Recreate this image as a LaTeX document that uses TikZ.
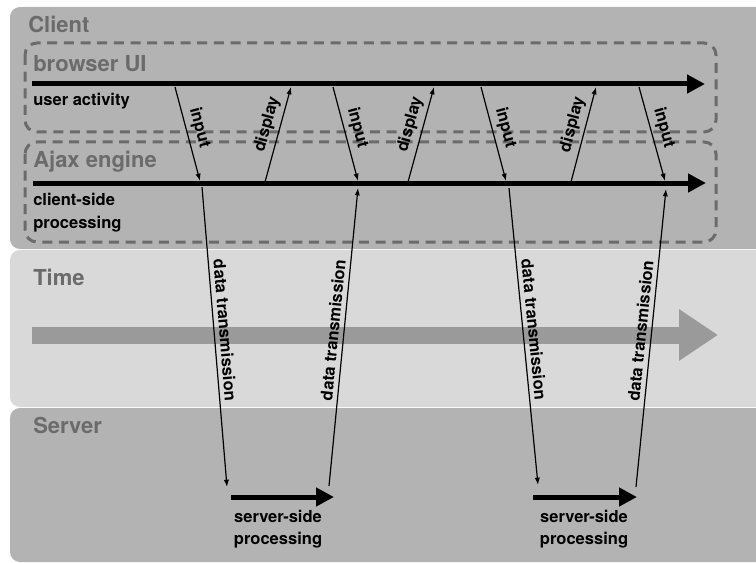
\documentclass[tikz,border=0pt]{standalone}
\usepackage{fontspec}
\setmainfont{TeX Gyre Heros}
\usetikzlibrary{arrows.meta}

\definecolor{panelgray}{HTML}{B3B3B3}
\definecolor{timegray}{HTML}{D9D9D9}
\definecolor{bargray}{HTML}{9A9A9A}
\definecolor{headgray}{HTML}{6B6B6B}

\begin{document}
\begin{tikzpicture}[x=0.75pt, y=-0.75pt, font=\bfseries\fontsize{12.4}{16.5}\selectfont]
          \tikzstyle{heading}=[anchor=base west, inner sep=0pt, text=headgray, font=\bfseries\fontsize{16.5}{20}\selectfont]
          \tikzstyle{lanetext}=[anchor=base west, inner sep=0pt]
          \tikzstyle{proctext}=[anchor=base, inner sep=0pt]
          \tikzstyle{group}=[draw=headgray, line width=2.25pt, dash pattern=on 7.5pt off 5pt, rounded corners=9pt]
          \tikzstyle{lane}=[line width=3.75pt, -{Triangle[length=13.5pt, width=13.5pt]}]
          \tikzstyle{msg}=[line width=0.9pt, -{Latex[length=5.5pt, width=4pt]}]
          \tikzstyle{msglabel}=[sloped, above]

          \clip (0,0) rectangle (756,563);
          \fill[white] (0,0) rectangle (756,563);

          % panels
          \fill[panelgray, rounded corners=7.5pt] (10,7) rectangle (790,249);
          \fill[timegray, rounded corners=7.5pt] (10,250) rectangle (790,407);
          \fill[panelgray, rounded corners=7.5pt] (10,408) rectangle (790,562);

          \draw[group] (25,43) rectangle (716,132);
          \draw[group] (25,142) rectangle (716,242);

          \node[heading] (client) at (28,33) {Client};
          \node[heading] (ui) at (33,72) {browser UI};
          \node[heading] (ajax) at (33,167) {Ajax engine};
          \node[heading] (time) at (33,285) {Time};
          \node[heading] (server) at (33,433) {Server};

          \node[lanetext] (activity) at (33,106) {user activity};
          \node[lanetext] (clientside) at (33,205) {client-side};
          \node[lanetext] (clientproc) at (33,228) {processing};

          % time line
          \coordinate (t0) at (32,335);
          \coordinate (t1) at (718,335);
          \draw[bargray, line width=12.75pt, -{Triangle[length=29.25pt, width=36.75pt]}] (t0) -- (t1);

          % lanes
          \coordinate (ui0) at (32,84);
          \coordinate (ui1) at (705,84);
          \coordinate (aj0) at (33,183);
          \coordinate (aj1) at (706,183);
          \coordinate (sv1a) at (231,497);
          \coordinate (sv1b) at (334,497);
          \coordinate (sv2a) at (533,497);
          \coordinate (sv2b) at (637,497);

          \draw[lane] (ui0) -- (ui1);
          \draw[lane] (aj0) -- (aj1);
          \draw[lane] (sv1a) -- (sv1b);
          \draw[lane] (sv2a) -- (sv2b);

          \node[proctext] (svside1) at (278,522) {server-side};
          \node[proctext] (svproc1) at (278,544) {processing};
          \node[proctext] (svside2) at (584,522) {server-side};
          \node[proctext] (svproc2) at (584,544) {processing};

          % browser <-> ajax engine
          \coordinate (in1a) at (175,87);
          \coordinate (in1b) at (200,181);
          \coordinate (dp1a) at (265,182);
          \coordinate (dp1b) at (291,87);
          \coordinate (in2a) at (333,87);
          \coordinate (in2b) at (358,181);
          \coordinate (dp2a) at (408,182);
          \coordinate (dp2b) at (434,87);
          \coordinate (in3a) at (481,87);
          \coordinate (in3b) at (506,181);
          \coordinate (dp3a) at (571,182);
          \coordinate (dp3b) at (596,87);
          \coordinate (in4a) at (639,87);
          \coordinate (in4b) at (665,181);

          \path (in1a) edge[msg] node[msglabel, pos=0.47] (lin1) {input} (in1b);
          \path (dp1a) edge[msg] node[msglabel, pos=0.57] (ldp1) {display} (dp1b);
          \path (in2a) edge[msg] node[msglabel, pos=0.47] (lin2) {input} (in2b);
          \path (dp2a) edge[msg] node[msglabel, pos=0.57] (ldp2) {display} (dp2b);
          \path (in3a) edge[msg] node[msglabel, pos=0.47] (lin3) {input} (in3b);
          \path (dp3a) edge[msg] node[msglabel, pos=0.57] (ldp3) {display} (dp3b);
          \path (in4a) edge[msg] node[msglabel, pos=0.47] (lin4) {input} (in4b);

          % ajax engine <-> server
          \coordinate (rq1a) at (202,187);
          \coordinate (rq1b) at (227,487);
          \coordinate (rs1a) at (329,486);
          \coordinate (rs1b) at (358,188);
          \coordinate (rq2a) at (509,188);
          \coordinate (rq2b) at (538,485);
          \coordinate (rs2a) at (636,487);
          \coordinate (rs2b) at (666,189);

          \path (rq1a) edge[msg] node[msglabel, pos=0.48] (lrq1) {data transmission} (rq1b);
          \path (rs1a) edge[msg] node[msglabel, pos=0.52] (lrs1) {data transmission} (rs1b);
          \path (rq2a) edge[msg] node[msglabel, pos=0.48] (lrq2) {data transmission} (rq2b);
          \path (rs2a) edge[msg] node[msglabel, pos=0.52] (lrs2) {data transmission} (rs2b);

        \end{tikzpicture}
\end{document}
